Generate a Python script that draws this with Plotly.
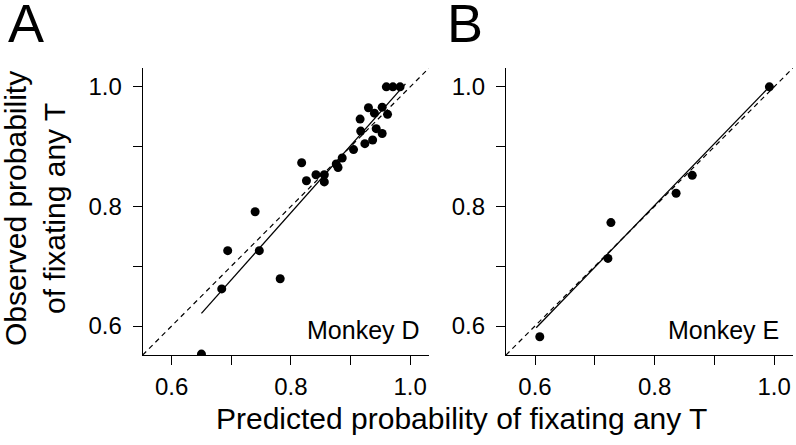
import plotly.graph_objects as go

# Panel A (Monkey D)
a_pred = [0.650, 0.684, 0.694, 0.740, 0.747, 0.782, 0.818, 0.826, 0.842, 0.856, 0.856,
          0.876, 0.879, 0.886, 0.905, 0.916, 0.917, 0.924, 0.930, 0.937, 0.940, 0.943,
          0.953, 0.953, 0.962, 0.960, 0.971, 0.983]
a_obs = [0.553, 0.662, 0.726, 0.791, 0.726, 0.679, 0.873, 0.843, 0.853, 0.853, 0.841,
         0.871, 0.865, 0.881, 0.895, 0.946, 0.926, 0.905, 0.965, 0.911, 0.956, 0.930,
         0.922, 0.966, 0.954, 1.000, 1.000, 1.000]
a_fit_x = [0.650, 0.992]
a_fit_y = [0.621, 1.005]

# Panel B (Monkey E)
b_pred = [0.608, 0.722, 0.727, 0.836, 0.863, 0.992]
b_obs = [0.582, 0.713, 0.773, 0.822, 0.852, 1.000]
b_fit_x = [0.602, 0.988]
b_fit_y = [0.597, 0.996]

axis_range = [0.5515, 1.0315]
tick_vals = [0.6, 0.7, 0.8, 0.9, 1.0]
tick_text = ["0.6", "", "0.8", "", "1.0"]

FONT = "Liberation Sans, Arial, sans-serif"
W, H = 796, 445

fig = go.Figure()

for i, (px, py, fx, fy) in enumerate([(a_pred, a_obs, a_fit_x, a_fit_y),
                                       (b_pred, b_obs, b_fit_x, b_fit_y)]):
    xa = "x" if i == 0 else "x2"
    ya = "y" if i == 0 else "y2"
    fig.add_trace(go.Scatter(x=axis_range, y=axis_range, mode="lines",
                             line=dict(color="black", width=1.2, dash="5px,4px"),
                             xaxis=xa, yaxis=ya, showlegend=False, hoverinfo="skip"))
    fig.add_trace(go.Scatter(x=fx, y=fy, mode="lines",
                             line=dict(color="black", width=1.3),
                             xaxis=xa, yaxis=ya, showlegend=False))
    fig.add_trace(go.Scatter(x=px, y=py, mode="markers",
                             marker=dict(color="black", size=9),
                             xaxis=xa, yaxis=ya, showlegend=False))

ax_common = dict(range=axis_range, showgrid=False, zeroline=False, showline=True,
                 linecolor="black", linewidth=1.3, ticks="outside", ticklen=9,
                 tickwidth=1.2, tickcolor="black", tickvals=tick_vals, ticktext=tick_text,
                 tickfont=dict(family=FONT, size=24, color="black"), automargin=False,
                 fixedrange=True)

ydom = [1 - 355 / H, 1 - 68 / H]
fig.update_layout(
    width=W, height=H, autosize=False,
    margin=dict(l=0, r=0, t=0, b=0),
    paper_bgcolor="white", plot_bgcolor="white",
    font=dict(family=FONT, color="black"),
    xaxis=dict(domain=[142.7 / W, 429 / W], anchor="y", ticklabelstandoff=1, **ax_common),
    yaxis=dict(domain=ydom, anchor="x", ticklabelstandoff=6, **ax_common),
    xaxis2=dict(domain=[506 / W, 793 / W], anchor="y2", ticklabelstandoff=1, **ax_common),
    yaxis2=dict(domain=ydom, anchor="x2", ticklabelstandoff=6, **ax_common),
)

ann = [
    dict(text="A", x=25.5 / W, y=1 - 23 / H, font=dict(size=54)),
    dict(text="B", x=465 / W, y=1 - 23 / H, font=dict(size=54)),
    dict(text="Monkey D", x=422 / W, y=1 - 330 / H, xanchor="right", font=dict(size=25)),
    dict(text="Monkey E", x=781 / W, y=1 - 330 / H, xanchor="right", font=dict(size=25)),
    dict(text="Observed probability<br>of fixating any T", x=35 / W, y=1 - 209 / H,
         textangle=-90, font=dict(size=30)),
    dict(text="Predicted probability of fixating any T", x=461.5 / W, y=1 - 418 / H,
         font=dict(size=30)),
]
for a in ann:
    base = dict(xref="paper", yref="paper", showarrow=False, xanchor="center",
                yanchor="middle")
    base.update(a)
    base["font"] = dict(family=FONT, color="black", **a["font"])
    fig.add_annotation(**base)

fig.write_html("out.html",
               config={"displayModeBar": False},
               post_script="document.body.style.margin='0';"
                           "document.body.style.overflow='hidden';")
